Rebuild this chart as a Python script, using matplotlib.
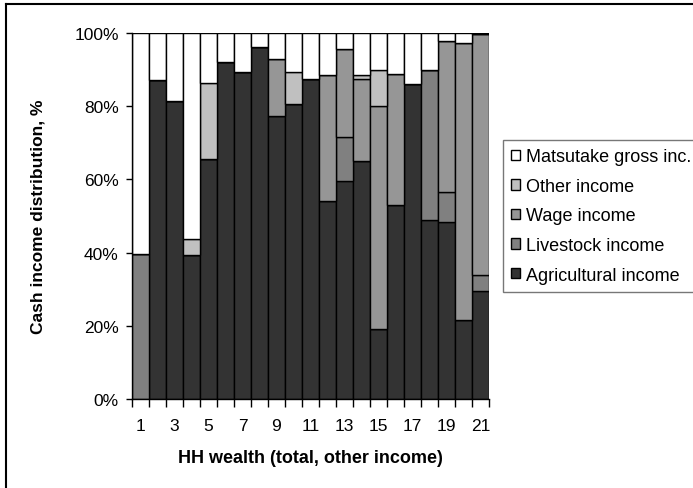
import numpy as np
import matplotlib
matplotlib.use('Agg')
import matplotlib.pyplot as plt
from matplotlib.lines import Line2D
from matplotlib.ticker import PercentFormatter

plt.rcParams['font.family'] = ['Liberation Sans', 'DejaVu Sans']

# HH wealth rank 1..21, shares in %
households = np.arange(1, 22)
agricultural = [0, 87.2, 81.5, 39.3, 65.6, 92.0, 89.3, 96.3, 77.4, 80.6, 87.4,
                54.2, 59.6, 65.1, 19.1, 53.0, 86.0, 49.0, 48.4, 21.7, 29.6]
livestock = [39.5, 0, 0, 0, 0, 0, 0, 0, 0, 0, 0,
             0, 11.9, 0, 0, 0, 0, 41.0, 8.2, 0, 4.3]
wage = [0, 0, 0, 0, 0, 0, 0, 0, 15.5, 0, 0,
        34.3, 24.1, 22.3, 61.0, 35.8, 0, 0, 41.1, 75.7, 65.7]
other = [0, 0, 0, 4.4, 20.7, 0, 0, 0, 0, 8.7, 0,
         0, 0, 1.1, 9.9, 0, 0, 0, 0, 0, 0]
matsutake = [100 - a - l - w - o for a, l, w, o in
             zip(agricultural, livestock, wage, other)]

series = [
    ('Agricultural income', agricultural, '#333333'),
    ('Livestock income', livestock, '#808080'),
    ('Wage income', wage, '#969696'),
    ('Other income', other, '#c0c0c0'),
    ('Matsutake gross inc.', matsutake, '#ffffff'),
]

fig = plt.figure(figsize=(6.93, 4.89), dpi=100)
ax = fig.add_axes([132 / 693, 1 - 400 / 489, 357 / 693, 366 / 489])

bottom = np.zeros(len(households))
handles = []
for name, vals, col in series:
    vals = np.array(vals) / 100.0
    b = ax.bar(households, vals, width=1.0, bottom=bottom, color=col,
               edgecolor='black', linewidth=1.0, label=name)
    handles.append(b)
    bottom += vals

ax.set_xlim(0.5, 21.5)
ax.set_ylim(0, 1)
ax.yaxis.set_major_formatter(PercentFormatter(1.0, decimals=0))
ax.set_yticks(np.arange(0, 1.01, 0.2))

# ticks between bars, labels under odd bars
ax.set_xticks(np.arange(0.5, 22, 1.0))
ax.set_xticklabels([])
ax.set_xticks(households[::2], minor=True)
ax.set_xticklabels([str(h) for h in households[::2]], minor=True)
ax.tick_params(axis='x', which='major', direction='out', length=6, width=1)
ax.tick_params(axis='x', which='minor', length=0, pad=14, labelsize=12.5)
ax.tick_params(axis='y', direction='out', length=4, width=1, labelsize=12.5,
               pad=5.5)

for s in ['top', 'right']:
    ax.spines[s].set_visible(False)
for s in ['left', 'bottom']:
    ax.spines[s].set_linewidth(1.0)

ax.set_xlabel('HH wealth (total, other income)', fontsize=13, fontweight='bold',
              labelpad=11)
ax.set_ylabel('Cash income distribution, %', fontsize=12.5, fontweight='bold',
              labelpad=21)

leg = fig.legend(handles[::-1], [s[0] for s in series[::-1]],
                 loc='upper left', bbox_to_anchor=(503 / 693, 1 - 141 / 489),
                 fontsize=13, frameon=True, fancybox=False, borderpad=0.45,
                 labelspacing=0.7, handlelength=0.5, handleheight=0.5,
                 handletextpad=0.3, borderaxespad=0)
leg.get_frame().set_edgecolor('#555555')
leg.get_frame().set_linewidth(1.0)

# outer chart frame (only top and left visible in the crop)
fig.add_artist(Line2D([6 / 693, 1], [1 - 5 / 489, 1 - 5 / 489],
                      transform=fig.transFigure, color='black', lw=1.5))
fig.add_artist(Line2D([6 / 693, 6 / 693], [0, 1 - 5 / 489],
                      transform=fig.transFigure, color='black', lw=1.5))

fig.savefig('out.png', dpi=100)
